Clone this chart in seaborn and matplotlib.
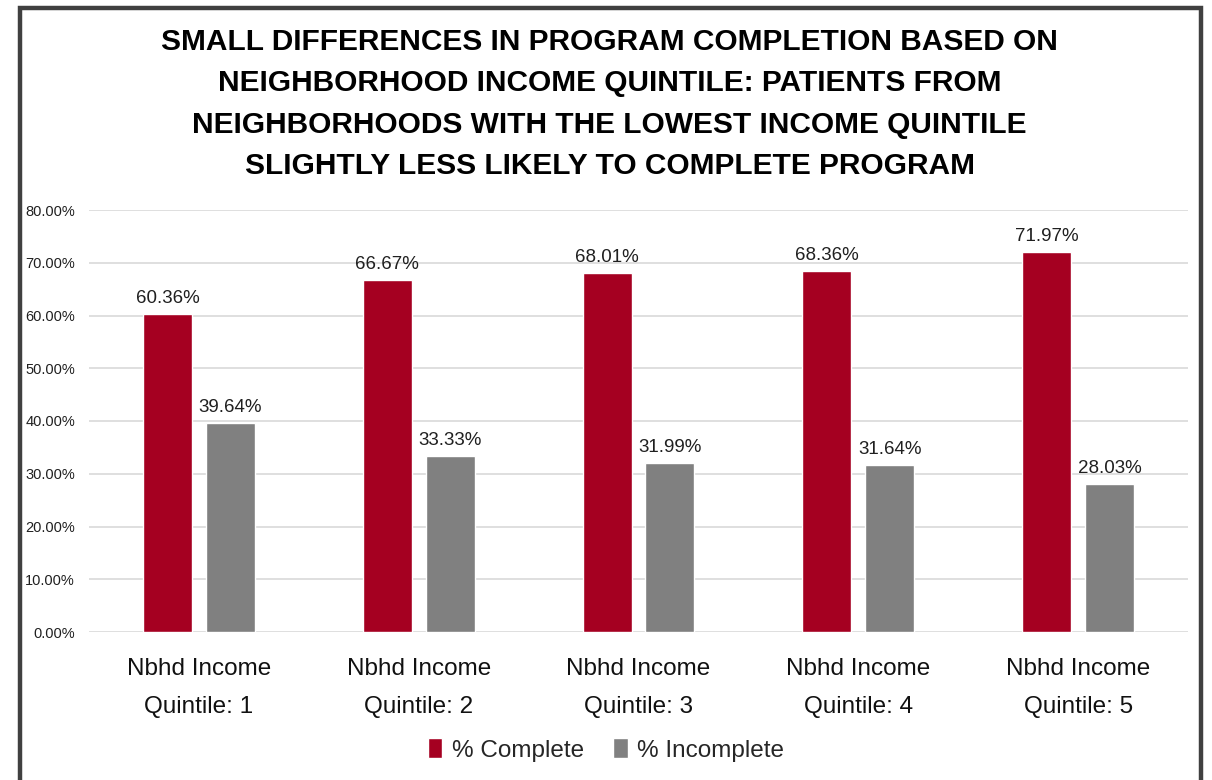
import matplotlib
matplotlib.use("Agg")
import matplotlib.pyplot as plt
import matplotlib.patches as mpatches
from matplotlib.ticker import FixedLocator, FuncFormatter
import seaborn as sns
import pandas as pd
from matplotlib import font_manager

categories = ["Nbhd Income\nQuintile: 1", "Nbhd Income\nQuintile: 2", "Nbhd Income\nQuintile: 3",
              "Nbhd Income\nQuintile: 4", "Nbhd Income\nQuintile: 5"]
series_names = ["% Complete", "% Incomplete"]
complete = [60.36, 66.67, 68.01, 68.36, 71.97]
incomplete = [39.64, 33.33, 31.99, 31.64, 28.03]
y_ticks = [0, 10, 20, 30, 40, 50, 60, 70, 80]
title = ("SMALL DIFFERENCES IN PROGRAM COMPLETION BASED ON\n"
         "NEIGHBORHOOD INCOME QUINTILE: PATIENTS FROM\n"
         "NEIGHBORHOODS WITH THE LOWEST INCOME QUINTILE\n"
         "SLIGHTLY LESS LIKELY TO COMPLETE PROGRAM")

df = pd.DataFrame({
    "category": categories * 2,
    "series": [series_names[0]] * len(categories) + [series_names[1]] * len(categories),
    "value": complete + incomplete,
})

sns.set_theme(style="white")
names = {f.name for f in font_manager.fontManager.ttflist}
fam = [f for f in ["Liberation Sans Narrow", "Liberation Sans", "DejaVu Sans"] if f in names] or ["DejaVu Sans"]
plt.rcParams["font.family"] = fam

colors = {"% Complete": "#A50021", "% Incomplete": "#808080"}

fig = plt.figure(figsize=(12.12, 7.8), dpi=100)
ax = fig.add_axes([89 / 1212, 1 - 632 / 780, (1188 - 89) / 1212, (632 - 210) / 780])

sns.barplot(data=df, x="category", y="value", hue="series", palette=colors,
            width=0.573, gap=0.222, ax=ax, legend=False, saturation=1)

for cont in ax.containers:
    ax.bar_label(cont, labels=[f"{v:.2f}%" for v in cont.datavalues], padding=5,
                 fontsize=13.5, color="#202020")

ax.set_ylim(0, 80)
ax.set_xlim(-0.5, 4.5)
ax.yaxis.set_major_locator(FixedLocator(y_ticks))
ax.yaxis.set_major_formatter(FuncFormatter(lambda v, p: f"{v:.2f}%"))
ax.grid(axis="y", color="#D9D9D9", linewidth=1.2)
ax.set_axisbelow(True)
for s in ax.spines.values():
    s.set_visible(False)
ax.tick_params(axis="y", length=0, pad=10, labelsize=10.5, labelcolor="#202020")
ax.tick_params(axis="x", length=0, pad=19, labelsize=17.5, labelcolor="#111111")
for t in ax.get_xticklabels():
    t.set_linespacing(1.9)
ax.set_xlabel("")
ax.set_ylabel("")

fig.text(0.503, 1 - 104 / 780, title, ha="center", va="center", fontsize=21.5,
         fontweight="bold", linespacing=1.62, color="black")

handles = [mpatches.Patch(facecolor=colors[n], label=n) for n in series_names]
fig.legend(handles=handles, loc="center", bbox_to_anchor=(0.5, 1 - 750 / 780), ncol=2,
           frameon=False, fontsize=17.5, handlelength=0.6, handleheight=0.85,
           handletextpad=0.4, columnspacing=1.2)

# outer frame
frame = mpatches.Rectangle((20 / 1212, -0.05), (1201 - 20) / 1212, 1.05 - 8 / 780,
                           transform=fig.transFigure, fill=False, edgecolor="#404040",
                           linewidth=3.2)
fig.patches.append(frame)

fig.savefig("out.png", dpi=100)
